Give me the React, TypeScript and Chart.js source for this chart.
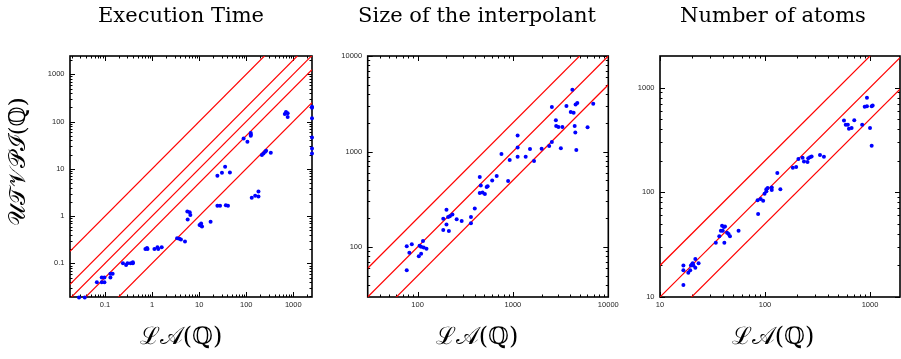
import React, { useEffect, useRef } from "react";
import { Chart, registerables } from "chart.js";

Chart.register(...registerables);

// ---------- Data ----------
// Panel 1: Execution Time
const timeLA = [
  0.028, 0.037,
  0.067, 0.085, 0.097, 0.085, 0.097, 0.13, 0.13, 0.145,
  0.24, 0.28, 0.3, 0.35, 0.39, 0.39,
  0.72, 0.78, 0.8,
  1.12, 1.3, 1.35, 1.6,
  3.4, 3.8, 4.1, 5.0,
  5.6, 6.3, 5.7, 6.5,
  10.2, 11, 11.5, 10.8,
  17.5,
  24.4, 30.5, 35.6, 45,
  24.4, 27.8, 36.9, 41,
  88, 106, 125, 125, 125,
  131, 155, 182, 182,
  215, 233, 253, 265, 333,
  660, 700, 760, 760,
  2500, 2500, 2500, 2500, 2500, 2500,
];
const timeUTVPI = [
  0.019, 0.019,
  0.04, 0.05, 0.05, 0.04, 0.04, 0.06, 0.05, 0.06,
  0.1, 0.092, 0.1, 0.1, 0.105, 0.1,
  0.2, 0.21, 0.2,
  0.2, 0.22, 0.2, 0.22,
  0.34, 0.33, 0.32, 0.29,
  1.25, 1.2, 0.85, 1.05,
  0.65, 0.7, 0.6, 0.63,
  0.76,
  7.1, 8.3, 11, 8.4,
  1.65, 1.65, 1.7, 1.65,
  44, 37.5, 57, 53, 50,
  2.45, 2.7, 3.3, 2.6,
  19.6, 21, 23, 24, 22,
  145, 160, 150, 125,
  205, 195, 117, 46, 27, 21,
];

// Panel 2: Size of the interpolant
const sizeLA = [
  77, 87, 82, 77, 103, 105, 109, 114, 109, 116, 124,
  186, 201, 209, 218, 232, 201, 186, 213, 257, 290,
  363, 363, 398, 449, 449, 460, 480, 508, 530, 543, 606, 676,
  758, 890, 925, 1120, 1120, 1120, 1360, 1510, 1665, 2000, 2400, 2560, 2560,
  2820, 2840, 3000, 3180, 3300, 3640, 4040, 4200, 4330, 4440, 4510, 4540,
  4620, 4730, 6060, 6950,
];
const sizeUTVPI = [
  102, 107, 87, 57, 80, 103, 101, 116, 85, 99, 96,
  198, 246, 206, 210, 219, 172, 151, 147, 195, 187,
  206, 178, 253, 369, 540, 441, 372, 360, 424, 434, 498, 554,
  940, 490, 817, 1470, 1100, 880, 880, 1060, 795, 1070, 1140, 1260, 2930,
  2120, 1850, 1810, 1080, 1810, 3000, 2600, 4420, 2540, 1850, 1580, 3100,
  1040, 3220, 1800, 3170,
];

// Panel 3: Number of atoms
const atomsLA = [
  16.7, 16.7, 16.7, 18.6, 19.4, 19.7, 20.2, 20.5, 20.8, 21.7, 21.7, 23.3,
  34, 36.7, 38, 39, 39.6, 40.5, 41, 41.6, 43.5, 45, 46.4, 56,
  85, 86, 91, 96, 99, 103, 103, 106, 116, 116, 131, 140,
  184, 198, 208, 228, 235, 254, 258, 268, 278, 334, 364,
  565, 587, 615, 630, 668, 708, 842, 890, 935, 935, 1000, 1037, 1037, 1060,
];
const atomsUTVPI = [
  20, 18, 13, 17, 18, 20, 20.5, 21, 20, 23, 19, 21,
  33, 38, 43, 48, 43, 46.5, 33, 47, 41, 40, 38, 43,
  84, 62, 86, 83, 97, 107, 102, 110, 111, 105, 153, 107,
  171, 174, 208, 214, 197, 194, 211, 216, 220, 227, 218,
  484, 442, 442, 405, 411, 487, 442, 654, 797, 664, 411, 278, 664, 675,
];

// Reference lines y = k * x
const timeRatios = [10, 2, 1, 0.5, 0.1];
const sizeRatios = [2, 1, 0.5];
const atomsRatios = [2, 1, 0.5];

// Tick labels
const timeTicks = [0.1, 1, 10, 100, 1000];
const sizeTicks = [100, 1000, 10000];
const atomsTicks = [10, 100, 1000];

// Titles / labels
const titles = ["Execution Time", "Size of the interpolant", "Number of atoms"];
const xAxisLabel = "ℒ𝒜(ℚ)";
const yAxisLabel = "𝒰𝒯𝒱𝒫ℐ(ℚ)";

// ---------- Chart setup ----------
type Panel = {
  left: number;
  width: number;
  title: string;
  yLabel?: string;
  la: number[];
  ut: number[];
  ratios: number[];
  xMin: number;
  xMax: number;
  yMin: number;
  yMax: number;
  ticks: number[];
  leftW: number;
  rightW: number;
};

const panels: Panel[] = [
  {
    left: 0, width: 362, title: titles[0], yLabel: yAxisLabel,
    la: timeLA, ut: timeUTVPI, ratios: timeRatios,
    xMin: 0.018, xMax: 2500, yMin: 0.0194, yMax: 2440,
    ticks: timeTicks, leftW: 70, rightW: 50,
  },
  {
    left: 320, width: 314, title: titles[1],
    la: sizeLA, ut: sizeUTVPI, ratios: sizeRatios,
    xMin: 30, xMax: 10000, yMin: 30, yMax: 10000,
    ticks: sizeTicks, leftW: 47.7, rightW: 25.7,
  },
  {
    left: 620, width: 306, title: titles[2],
    la: atomsLA, ut: atomsUTVPI, ratios: atomsRatios,
    xMin: 10, xMax: 1930, yMin: 10, yMax: 2000,
    ticks: atomsTicks, leftW: 40, rightW: 26,
  },
];

const H = 359;
const fmt = (v: number) => String(Number(Number(v).toPrecision(6)));
const tickFont = { family: "'Liberation Sans', Arial, sans-serif", size: 7.5 };
const tickColor = "#262626";

function minorValues(min: number, max: number): number[] {
  const out: number[] = [];
  for (let e = Math.floor(Math.log10(min)); e <= Math.ceil(Math.log10(max)); e++) {
    for (let m = 2; m <= 9; m++) {
      const v = m * Math.pow(10, e);
      if (v > min && v < max) out.push(v);
    }
  }
  return out;
}

const framePlugin = {
  id: "frameTicks",
  beforeDatasetsDraw(chart: any, _args: any, opts: any) {
    const { ctx, chartArea: a, scales } = chart;
    const xs = scales.x, ys = scales.y;
    const major: number[] = opts.ticks;
    ctx.save();
    ctx.strokeStyle = "#000";
    ctx.lineWidth = 1;
    const drawX = (v: number, len: number) => {
      const px = Math.round(xs.getPixelForValue(v)) + 0.5;
      ctx.beginPath();
      ctx.moveTo(px, a.bottom); ctx.lineTo(px, a.bottom - len);
      ctx.moveTo(px, a.top); ctx.lineTo(px, a.top + len);
      ctx.stroke();
    };
    const drawY = (v: number, len: number) => {
      const py = Math.round(ys.getPixelForValue(v)) + 0.5;
      ctx.beginPath();
      ctx.moveTo(a.left, py); ctx.lineTo(a.left + len, py);
      ctx.moveTo(a.right, py); ctx.lineTo(a.right - len, py);
      ctx.stroke();
    };
    minorValues(xs.min, xs.max).forEach((v) => drawX(v, 2.5));
    minorValues(ys.min, ys.max).forEach((v) => drawY(v, 2.5));
    major.forEach((v) => { if (v >= xs.min && v <= xs.max) drawX(v, 5); });
    major.forEach((v) => { if (v >= ys.min && v <= ys.max) drawY(v, 5); });
    ctx.lineWidth = 1.6;
    ctx.strokeRect(a.left, a.top, a.right - a.left, a.bottom - a.top);
    ctx.restore();
  },
};

function PanelChart({ p }: { p: Panel }) {
  const ref = useRef<HTMLCanvasElement | null>(null);
  useEffect(() => {
    if (!ref.current) return;
    const lineSets = p.ratios.map((k) => ({
      type: "line",
      data: [
        { x: p.xMin, y: k * p.xMin },
        { x: p.xMax, y: k * p.xMax },
      ],
      borderColor: "rgb(255,0,0)",
      backgroundColor: "rgb(255,0,0)",
      borderWidth: 1.2,
      pointRadius: 0,
      showLine: true,
      fill: false,
      xAxisID: "x",
      yAxisID: "y",
      order: 2,
    }));
    const points = {
      type: "scatter",
      data: p.la.map((x, i) => ({ x, y: p.ut[i] })),
      backgroundColor: "#0000ff",
      borderColor: "#0000ff",
      borderWidth: 0,
      pointRadius: 2,
      clip: false,
      xAxisID: "x",
      yAxisID: "y",
      order: 1,
    };
    const chart = new Chart(ref.current, {
      type: "scatter",
      data: { datasets: [...lineSets, points] as any },
      options: {
        responsive: false,
        animation: false,
        events: [],
        layout: { padding: 0 },
        plugins: {
          legend: { display: false },
          tooltip: { enabled: false },
          title: {
            display: true,
            text: p.title,
            color: "#000",
            font: { family: "'DejaVu Serif', serif", size: 21, weight: "normal", lineHeight: 1.2 },
            padding: { top: 4, bottom: 26.8 },
          },
          subtitle: {
            display: true,
            position: "bottom",
            text: xAxisLabel,
            color: "#000",
            font: { family: "'DejaVu Serif', serif", size: 24, weight: "normal", lineHeight: 1.2 },
            padding: { top: 6.1, bottom: 7.1 },
          },
          frameTicks: { ticks: p.ticks },
        } as any,
        scales: {
          x: {
            type: "logarithmic",
            position: "bottom",
            min: p.xMin,
            max: p.xMax,
            afterBuildTicks: (s: any) => { s.ticks = p.ticks.map((v) => ({ value: v })); },
            afterFit: (s: any) => { s.height = 20; },
            ticks: { callback: (v: any) => fmt(v), autoSkip: false, maxRotation: 0, font: tickFont, color: tickColor, padding: 3 },
            grid: { display: false, drawTicks: false },
            border: { display: false },
          },
          y: {
            type: "logarithmic",
            position: "left",
            min: p.yMin,
            max: p.yMax,
            afterBuildTicks: (s: any) => { s.ticks = p.ticks.map((v) => ({ value: v })); },
            afterFit: (s: any) => { s.width = p.leftW; },
            ticks: { callback: (v: any) => fmt(v), autoSkip: false, font: tickFont, color: tickColor, padding: 5.5 },
            grid: { display: false, drawTicks: false },
            border: { display: false },
            title: p.yLabel
              ? {
                  display: true,
                  text: "    " + p.yLabel,
                  color: "#000",
                  font: { family: "'DejaVu Serif', serif", size: 23, weight: "normal", lineHeight: 1 },
                  padding: { top: 7.5, bottom: 0 },
                }
              : { display: false },
          },
          yRight: {
            type: "linear",
            axis: "y",
            position: "right",
            display: true,
            afterFit: (s: any) => { s.width = p.rightW; },
            ticks: { display: false },
            grid: { display: false, drawTicks: false },
            border: { display: false },
          },
        } as any,
      },
      plugins: [framePlugin],
    } as any);
    return () => chart.destroy();
  }, [p]);
  return (
    <canvas
      ref={ref}
      width={p.width}
      height={H}
      style={{ position: "absolute", left: p.left, top: 0, width: p.width, height: H }}
    />
  );
}

export default function App() {
  return (
    <div
      style={{
        position: "absolute",
        left: 0,
        top: 0,
        width: 901,
        height: H,
        overflow: "hidden",
        background: "#fff",
      }}
    >
      {panels.map((p, i) => (
        <PanelChart key={i} p={p} />
      ))}
    </div>
  );
}
